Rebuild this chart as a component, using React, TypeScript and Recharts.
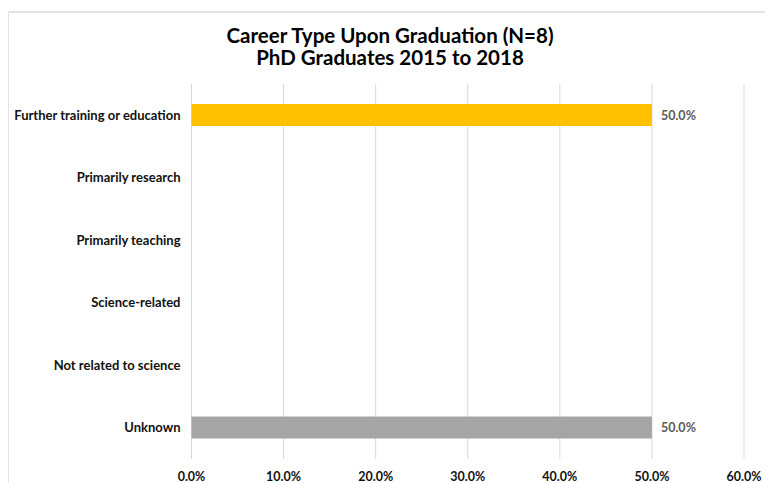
import { BarChart, Bar, XAxis, YAxis, CartesianGrid, Cell, LabelList } from "recharts"

const categories = [
  "Further training or education",
  "Primarily research",
  "Primarily teaching",
  "Science-related",
  "Not related to science",
  "Unknown",
]
const shares = [50, 0, 0, 0, 0, 50]
const barColors = ["#FFC000", "#A5A5A5", "#A5A5A5", "#A5A5A5", "#A5A5A5", "#A5A5A5"]
const xTicks = [0, 10, 20, 30, 40, 50, 60]

const data = categories.map((name, i) => ({ name, value: shares[i], color: barColors[i] }))

const font = "Lato, 'Noto Sans', sans-serif"

const ValueLabel = (props: any) => {
  const { x, y, width, height, value } = props
  if (!value) return null
  return (
    <text x={x + width + 9} y={y + height / 2 + 4.5} fill="#595959" fontSize={12.5} fontWeight={700} fontFamily={font}>
      {value.toFixed(1)}%
    </text>
  )
}

const CategoryTick = (props: any) => {
  const { x, y, payload } = props
  return (
    <text x={x} y={y + 4.5} textAnchor="end" fill="#111" fontSize={13} fontWeight={700} fontFamily={font}>
      {payload.value}
    </text>
  )
}

const PercentTick = (props: any) => {
  const { x, y, payload } = props
  return (
    <text x={x} y={y + 1} textAnchor="middle" fill="#111" fontSize={12.5} fontWeight={700} fontFamily={font}>
      {payload.value.toFixed(1)}%
    </text>
  )
}

export default function App() {
  return (
    <div style={{ position: "relative", width: 765, height: 483, overflow: "hidden", fontFamily: font, background: "#fff" }}>
      <style>{`body { margin: 0; } .recharts-surface { overflow: visible; }`}</style>
      <div
        style={{
          position: "absolute",
          left: 8,
          top: 11,
          width: 770,
          height: 480,
          borderTop: "2px solid #e3e3e3",
          borderLeft: "1px solid #e3e3e3",
        }}
      />
      <div
        style={{
          position: "absolute",
          left: 0,
          width: 765,
          top: 24,
          textAlign: "center",
          fontWeight: 700,
          fontSize: 20.5,
          lineHeight: "22px",
          color: "#000",
        }}
      >
        <div style={{ paddingLeft: 15 }}>Career Type Upon Graduation (N=8)</div>
        <div style={{ paddingLeft: 15 }}>PhD Graduates 2015 to 2018</div>
      </div>
      <BarChart
        width={757}
        height={475}
        data={data}
        layout="vertical"
        margin={{ top: 76, right: 21, bottom: 0, left: 0 }}
        style={{ position: "absolute", left: 8, top: 8 }}
      >
        <CartesianGrid horizontal={false} stroke="#d9d9d9" />
        <XAxis
          type="number"
          domain={[0, 60]}
          ticks={xTicks}
          axisLine={false}
          tickLine={false}
          tickMargin={15}
          height={24}
          tick={<PercentTick />}
        />
        <YAxis
          type="category"
          dataKey="name"
          width={183.5}
          axisLine={false}
          tickLine={false}
          tickMargin={5}
          tick={<CategoryTick />}
        />
        <Bar dataKey="value" barSize={22} isAnimationActive={false}>
          {data.map((d, i) => (
            <Cell key={`cell-${i}`} fill={d.color} />
          ))}
          <LabelList dataKey="value" content={ValueLabel} />
        </Bar>
      </BarChart>
    </div>
  )
}
